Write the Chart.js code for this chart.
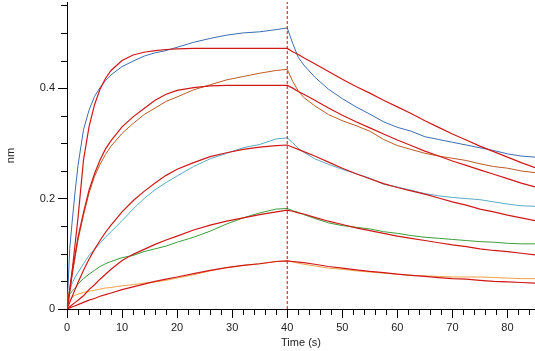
<!DOCTYPE html>
<html>
<head>
<meta charset="utf-8">
<script src="https://cdn.jsdelivr.net/npm/chart.js@4.4.1/dist/chart.umd.min.js"></script>
<style>
    html, body { margin: 0; padding: 0; background: #fff; }
    #wrap { width: 535px; height: 351px; }
</style>
</head>
<body>
<div id="wrap"><canvas id="myChart" width="535" height="351"></canvas></div>
<script>
// time points (s), shared by every trace
var times = [0, 0.5, 1, 1.5, 2, 3, 4, 5, 6, 7, 8, 10, 12, 14, 16, 18, 20, 23, 26, 29, 32, 35, 38, 40,
    41, 42, 43, 45, 47.5, 50, 52.5, 55, 57.5, 60, 62.5, 65, 67.5, 70, 72.5, 75, 77.5, 80, 82.5, 85];

// measured responses (nm)
var blue = [0, 0.11, 0.165, 0.215, 0.26, 0.325, 0.36, 0.385, 0.401, 0.414, 0.424, 0.439, 0.449, 0.458, 0.464, 0.468, 0.474, 0.483, 0.49, 0.496, 0.5, 0.502, 0.506, 0.509,
    0.481, 0.456, 0.442, 0.42, 0.398, 0.381, 0.366, 0.353, 0.339, 0.329, 0.322, 0.312, 0.307, 0.302, 0.297, 0.292, 0.287, 0.281, 0.277, 0.275];
var brown = [0, 0.03, 0.065, 0.095, 0.125, 0.17, 0.21, 0.24, 0.262, 0.28, 0.295, 0.318, 0.336, 0.352, 0.364, 0.376, 0.384, 0.397, 0.406, 0.415, 0.421, 0.427, 0.432, 0.434,
    0.412, 0.395, 0.383, 0.368, 0.352, 0.341, 0.332, 0.322, 0.307, 0.296, 0.289, 0.282, 0.277, 0.273, 0.269, 0.263, 0.258, 0.255, 0.25, 0.247];
var cyan = [0, 0.035, 0.048, 0.058, 0.066, 0.082, 0.097, 0.108, 0.119, 0.13, 0.14, 0.16, 0.181, 0.2, 0.216, 0.229, 0.241, 0.258, 0.272, 0.282, 0.292, 0.298, 0.308, 0.31,
    0.301, 0.291, 0.284, 0.272, 0.262, 0.253, 0.245, 0.237, 0.226, 0.221, 0.215, 0.209, 0.205, 0.202, 0.2, 0.198, 0.194, 0.19, 0.187, 0.186];
var green = [0, 0.027, 0.033, 0.038, 0.045, 0.055, 0.063, 0.07, 0.077, 0.082, 0.086, 0.093, 0.097, 0.104, 0.109, 0.114, 0.121, 0.13, 0.141, 0.154, 0.165, 0.174, 0.181, 0.182,
    0.178, 0.175, 0.171, 0.164, 0.156, 0.151, 0.148, 0.145, 0.14, 0.137, 0.133, 0.13, 0.128, 0.126, 0.124, 0.122, 0.121, 0.119, 0.118, 0.118];
var orange = [0, 0.017, 0.022, 0.025, 0.027, 0.03, 0.032, 0.034, 0.036, 0.038, 0.039, 0.042, 0.044, 0.047, 0.049, 0.052, 0.056, 0.062, 0.069, 0.075, 0.079, 0.082, 0.086, 0.087,
    0.085, 0.083, 0.081, 0.078, 0.074, 0.072, 0.069, 0.067, 0.065, 0.063, 0.061, 0.06, 0.059, 0.058, 0.058, 0.058, 0.057, 0.056, 0.055, 0.055];

// fitted curves (nm)
var fit1 = [0, 0.035, 0.075, 0.12, 0.165, 0.27, 0.33, 0.37, 0.398, 0.418, 0.432, 0.45, 0.46, 0.465, 0.468, 0.47, 0.471, 0.472, 0.472, 0.472, 0.472, 0.472, 0.472, 0.472,
    0.466, 0.461, 0.455, 0.444, 0.43, 0.416, 0.403, 0.391, 0.378, 0.366, 0.354, 0.341, 0.329, 0.317, 0.306, 0.295, 0.285, 0.275, 0.265, 0.256];
var fit2 = [0, 0.035, 0.07, 0.1, 0.13, 0.175, 0.215, 0.245, 0.27, 0.29, 0.305, 0.33, 0.348, 0.363, 0.378, 0.389, 0.396, 0.401, 0.404, 0.405, 0.405, 0.405, 0.405, 0.405,
    0.4, 0.394, 0.389, 0.378, 0.364, 0.351, 0.339, 0.328, 0.317, 0.306, 0.296, 0.286, 0.277, 0.268, 0.26, 0.252, 0.244, 0.236, 0.228, 0.221];
var fit3 = [0, 0.012, 0.024, 0.036, 0.048, 0.07, 0.09, 0.108, 0.124, 0.139, 0.152, 0.176, 0.196, 0.213, 0.228, 0.242, 0.253, 0.265, 0.276, 0.283, 0.289, 0.293, 0.296, 0.297,
    0.293, 0.289, 0.285, 0.277, 0.266, 0.255, 0.245, 0.236, 0.227, 0.22, 0.214, 0.208, 0.201, 0.194, 0.188, 0.181, 0.176, 0.17, 0.165, 0.16];
var fit4 = [0, 0.004, 0.008, 0.012, 0.016, 0.024, 0.035, 0.044, 0.054, 0.063, 0.072, 0.088, 0.099, 0.108, 0.117, 0.125, 0.132, 0.143, 0.152, 0.159, 0.165, 0.171, 0.176, 0.179,
    0.177, 0.174, 0.172, 0.166, 0.159, 0.153, 0.147, 0.142, 0.137, 0.132, 0.128, 0.124, 0.12, 0.116, 0.113, 0.109, 0.106, 0.104, 0.101, 0.098];
var fit5 = [0, 0.002, 0.004, 0.006, 0.008, 0.012, 0.016, 0.019, 0.023, 0.026, 0.029, 0.035, 0.04, 0.045, 0.05, 0.054, 0.058, 0.064, 0.07, 0.075, 0.079, 0.082, 0.086, 0.087,
    0.086, 0.085, 0.084, 0.081, 0.077, 0.074, 0.071, 0.068, 0.066, 0.063, 0.061, 0.059, 0.057, 0.055, 0.054, 0.052, 0.05, 0.049, 0.048, 0.047];

// end of association phase (s)
var phaseSwitch = [40];

var xMin = 0, xMax = 85, xMajor = 10, xMinor = 2;
var yMin = 0, yMax = 0.556, yMajor = 0.2, yMinor = 0.05;

var fitColor = '#d01818';

function pts(values) {
    return values.map(function (v, i) { return {x: times[i], y: v}; });
}

function trace(values, color) {
    return {data: pts(values), borderColor: color, borderWidth: 1, pointRadius: 0, order: 2};
}

function fit(values) {
    return {data: pts(values), borderColor: fitColor, borderWidth: 1.2, pointRadius: 0, order: 1};
}

var minorTicks = {
    id: 'minorTicks',
    afterDraw: function (chart) {
        var ctx = chart.ctx;
        var xs = chart.scales.x, ys = chart.scales.y;
        ctx.save();
        ctx.strokeStyle = '#000';
        ctx.lineWidth = 1;
        ctx.beginPath();
        for (var i = 0; xMin + i * xMinor <= xMax; i++) {
            if ((i * xMinor) % xMajor === 0) continue;
            var px = Math.round(xs.getPixelForValue(xMin + i * xMinor)) + 0.5;
            ctx.moveTo(px, xs.top);
            ctx.lineTo(px, xs.top + 6);
        }
        for (var j = 0; yMin + j * yMinor <= yMax; j++) {
            if (j % 4 === 0) continue;
            var py = Math.round(ys.getPixelForValue(yMin + j * yMinor)) + 0.5;
            ctx.moveTo(ys.right - 6, py);
            ctx.lineTo(ys.right, py);
        }
        ctx.stroke();
        ctx.restore();
    }
};

var font = {family: "'Liberation Sans', Arial, sans-serif", size: 11};

var ctx = document.getElementById('myChart').getContext('2d');
var myChart = new Chart(ctx, {
    type: 'line',
    data: {
        datasets: [
            trace(blue, '#3b6db0'),
            trace(brown, '#bd5a24'),
            trace(cyan, '#58acc6'),
            trace(green, '#3a9e3a'),
            trace(orange, '#f2a246'),
            fit(fit1), fit(fit2), fit(fit3), fit(fit4), fit(fit5),
            {
                data: [{x: phaseSwitch[0], y: yMin}, {x: phaseSwitch[0], y: yMax}],
                borderColor: '#cc1010', borderWidth: 1, borderDash: [3, 2],
                pointRadius: 0, order: 0
            }
        ]
    },
    options: {
        responsive: false,
        animation: false,
        events: [],
        layout: {padding: {top: 2, right: 0, left: 0, bottom: 0}},
        plugins: {legend: {display: false}, tooltip: {enabled: false}},
        scales: {
            x: {
                type: 'linear', min: xMin, max: xMax,
                afterFit: function (scale) { scale.height = 42; },
                grid: {drawOnChartArea: false, tickLength: 9, color: '#000'},
                border: {color: '#000', width: 1},
                ticks: {stepSize: xMajor, includeBounds: false, color: '#222', font: font, padding: 3, maxRotation: 0},
                title: {display: true, text: 'Time (s)', color: '#222', font: font, padding: {top: 0, bottom: 1}}
            },
            y: {
                type: 'linear', min: yMin, max: yMax,
                afterFit: function (scale) {
                    scale.width = 67;
                    scale.paddingTop = 0;
                    scale.paddingBottom = 0;
                },
                grid: {drawOnChartArea: false, tickLength: 9, color: '#000'},
                border: {color: '#000', width: 1},
                ticks: {stepSize: yMajor, includeBounds: false, color: '#222', font: font, padding: 3,
                    callback: function (v) { return v === 0 ? '0' : v.toFixed(1); }},
                title: {display: true, text: 'nm', color: '#222', font: font}
            }
        }
    },
    plugins: [minorTicks]
});
</script>
</body>
</html>
